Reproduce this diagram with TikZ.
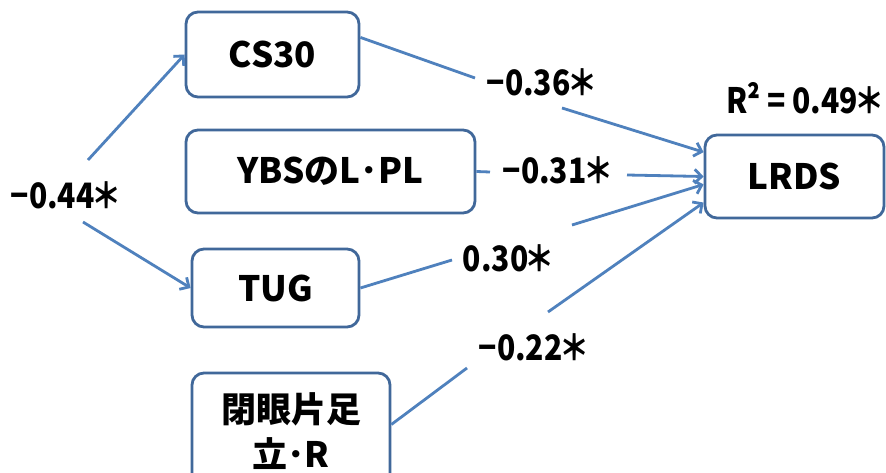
\documentclass[tikz,border=0pt]{standalone}
\usepackage{fontspec}
\setmainfont{Noto Sans CJK JP}
\newfontfamily\coeffont{Noto Sans CJK JP}[FakeStretch=0.86]
\usetikzlibrary{arrows.meta}
\definecolor{linkblue}{RGB}{79,129,189}
\definecolor{boxblue}{RGB}{65,104,154}
% significance mark: full-width asterisk pulled in on both sides
\newcommand{\sigmark}{\hspace{-0.1em}＊\hspace{-0.22em}}
\tikzset{
  varbox/.style={draw=boxblue, line width=2.8pt, rounded corners=12pt, fill=white,
    inner sep=0pt, align=center, font=\fontsize{35}{45}\selectfont\bfseries},
  coef/.style={inner sep=0pt, font=\coeffont\fontsize{35}{40}\selectfont\bfseries},
  link/.style={draw=linkblue, line width=2.8pt},
  arrowlink/.style={link, -{Straight Barb[length=7pt,width=14pt,line width=2.8pt]}}
}
\begin{document}
\begin{tikzpicture}[x=1pt,y=-1pt]
\useasboundingbox[fill=white] (0,0) rectangle (886,473);

% predictor and outcome boxes
\node[varbox, minimum width=173pt, minimum height=85pt] (cs) at (272.5,54.5) {CS30};
\node[varbox, minimum width=289pt, minimum height=83pt] (ybs) at (330.5,171.5) {YBSのL･PL};
\node[varbox, minimum width=167pt, minimum height=78pt] (tug) at (275.5,288) {TUG};
\node[varbox, minimum width=198pt, minimum height=117pt] (eyes) at (291,431.5) {閉眼片足\\立･R};
\node[varbox, minimum width=179pt, minimum height=83pt] (lrds) at (794.5,176.5) {LRDS};

% coefficients
\node[coef] (k44) at (66,195) {−0.44\sigmark};
\node[coef] (k36) at (542,82) {−0.36\sigmark};
\node[coef] (k31) at (558,170) {−0.31\sigmark};
\node[coef] (k30) at (509,258) {0.30\sigmark};
\node[coef] (k22) at (534,347) {−0.22\sigmark};
\node[coef, anchor=east] (r2) at (885,98) {R² = 0.49\sigmark};

% break points of the paths around the coefficients
\coordinate (u1) at (88,160);
\coordinate (u2) at (83,222);
\coordinate (p36a) at (475,78);
\coordinate (p36b) at (562,108);
\coordinate (p31a) at (490,172);
\coordinate (p31b) at (627,175);
\coordinate (p30a) at (452,260);
\coordinate (p30b) at (572,225);
\coordinate (p22a) at (467,368);
\coordinate (p22b) at (548,312);

% correlation between CS30 and TUG
\draw[arrowlink] (u1) -- (cs.west);
\draw[arrowlink] (u2) -- (tug.west);

% paths into LRDS
\draw[link] (cs.11) -- (p36a);
\draw[arrowlink] (p36b) -- (lrds.165);
\draw[link] (ybs.east) -- (p31a);
\draw[arrowlink] (p31b) -- (lrds.west);
\draw[link] (tug.east) -- (p30a);
\draw[arrowlink] (p30b) -- (lrds.185);
\draw[link] (eyes.4) -- (p22a);
\draw[arrowlink] (p22b) -- (lrds.196);
\end{tikzpicture}
\end{document}
